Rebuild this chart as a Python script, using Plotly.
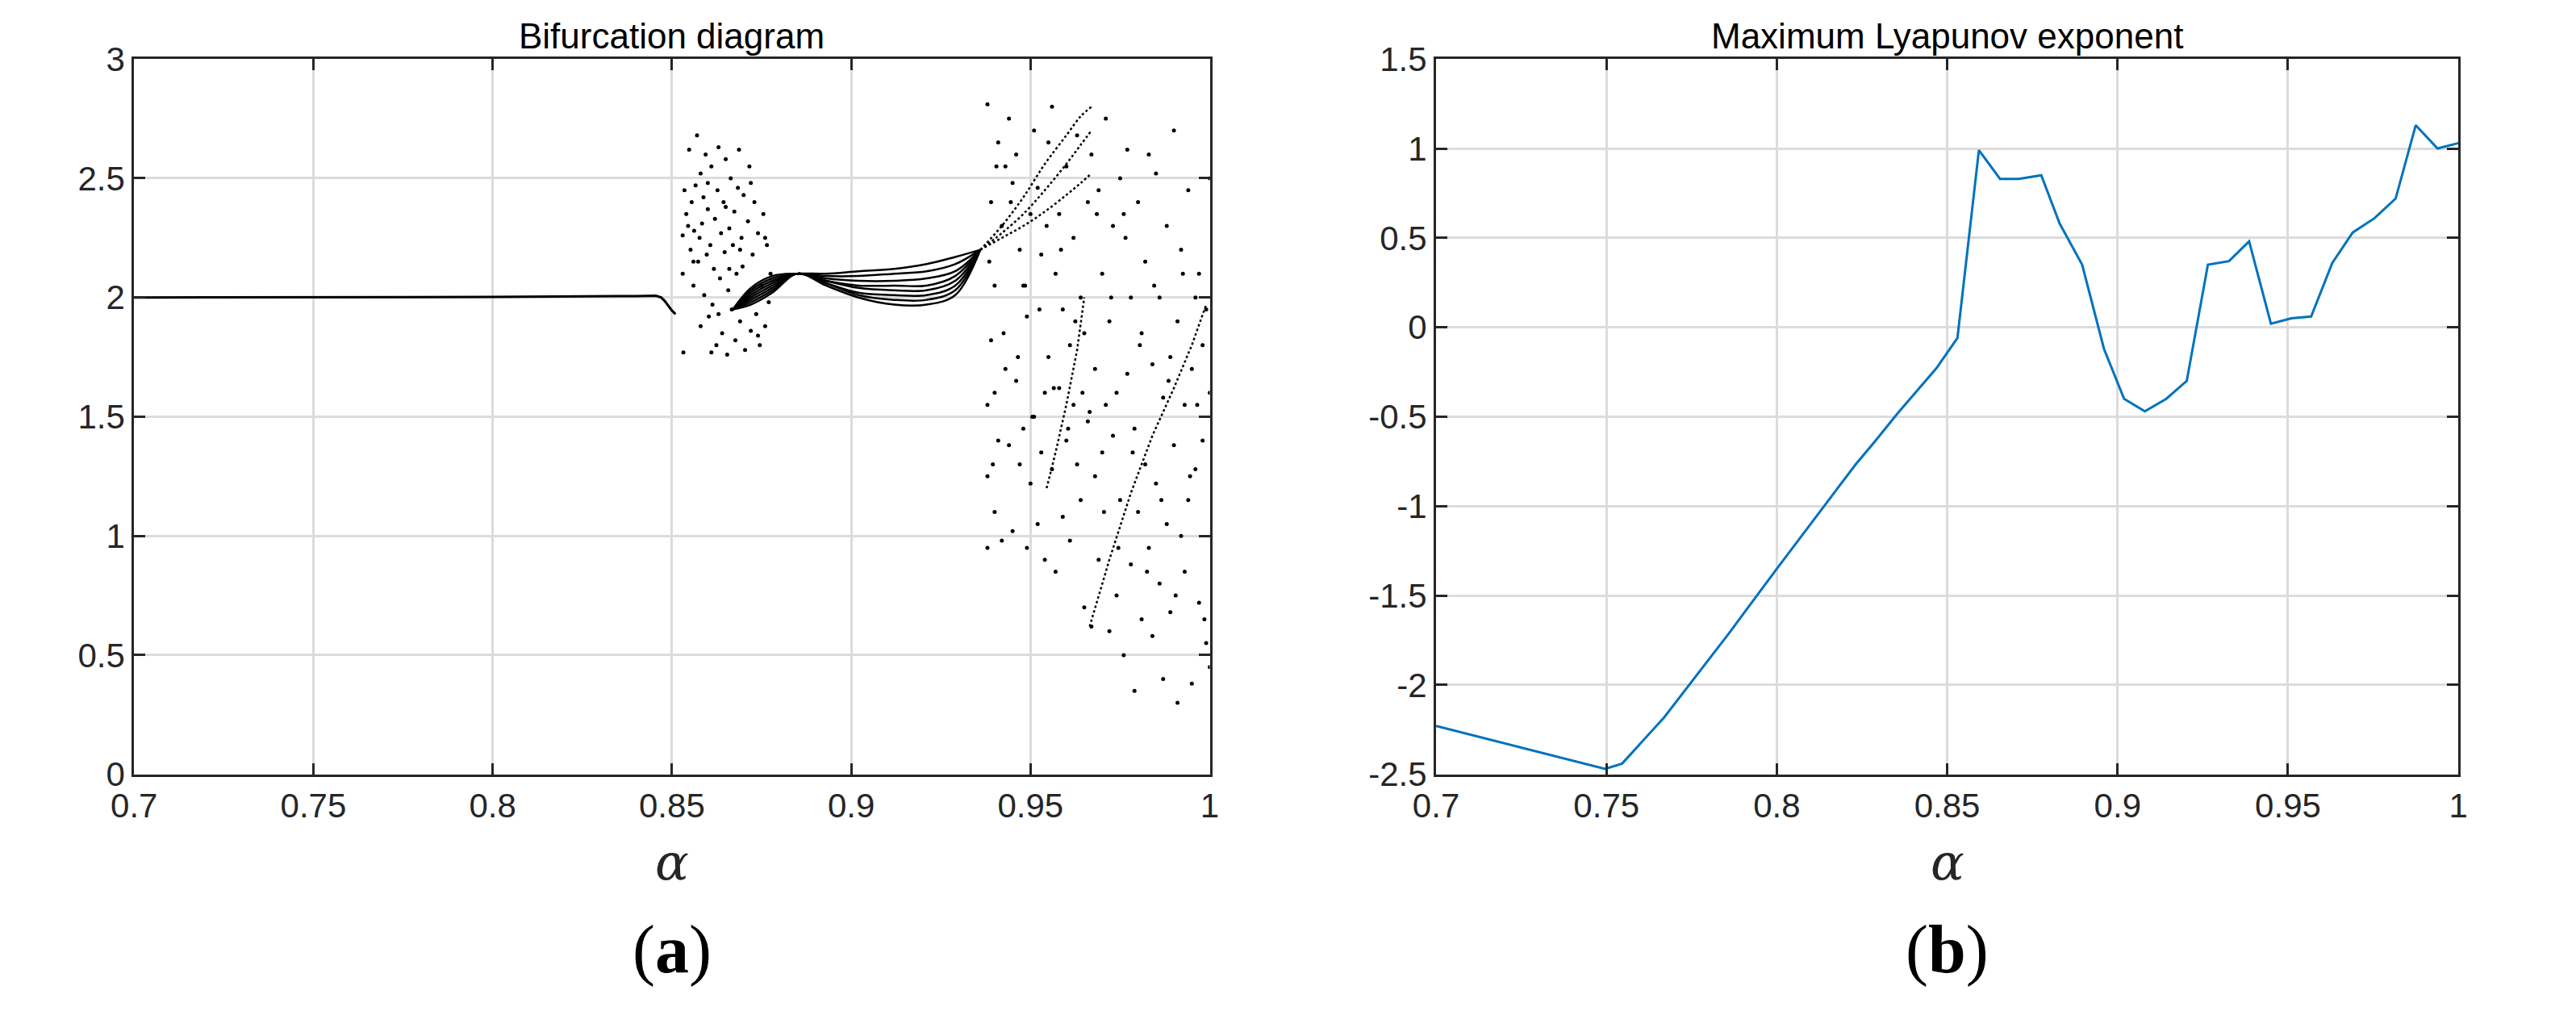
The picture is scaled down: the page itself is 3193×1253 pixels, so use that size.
import plotly.graph_objects as go

# ---- Lyapunov exponent data ----
lya_alpha = [0.7, 0.7496, 0.7546, 0.767, 0.786, 0.800, 0.8127, 0.823, 0.8287, 0.8355, 0.8468, 0.853,
             0.8593, 0.8655, 0.871, 0.8776, 0.883, 0.8896, 0.896, 0.9019, 0.908, 0.9143, 0.9203,
             0.9265, 0.9327, 0.9386, 0.945, 0.951, 0.9568, 0.963, 0.969, 0.9754, 0.9816, 0.9875,
             0.9939, 1.0]
lya_val = [-2.23, -2.47, -2.44, -2.18, -1.71, -1.35, -1.03, -0.77, -0.64, -0.48, -0.23, -0.06,
           0.99, 0.83, 0.83, 0.85, 0.58, 0.35, -0.12, -0.40, -0.47, -0.40, -0.30,
           0.35, 0.37, 0.48, 0.02, 0.05, 0.06, 0.36, 0.53, 0.61, 0.72, 1.13, 1.00, 1.03]

# ---- Bifurcation: steady branch ----
flat_alpha = [0.7, 0.75, 0.8, 0.84, 0.8455, 0.847, 0.848, 0.849, 0.850, 0.851]
flat_x = [2.0, 2.0, 2.002, 2.006, 2.007, 2.0, 1.985, 1.965, 1.945, 1.93]

# ---- Bifurcation: first chaotic cloud ----
cloud1_alpha = [0.8530, 0.8532, 0.8535, 0.8540, 0.8545, 0.8548, 0.8552, 0.8555, 0.8560, 0.8562,
                0.8566, 0.8570, 0.8573, 0.8577, 0.8580, 0.8584, 0.8588, 0.8590, 0.8594, 0.8597,
                0.8600, 0.8603, 0.8607, 0.8610, 0.8613, 0.8617, 0.8620, 0.8624, 0.8627, 0.8630,
                0.8634, 0.8637, 0.8640, 0.8644, 0.8647, 0.8650, 0.8654, 0.8657, 0.8660, 0.8664,
                0.8667, 0.8670, 0.8674, 0.8677, 0.8680, 0.8684, 0.8687, 0.8690, 0.8694, 0.8697,
                0.8700, 0.8704, 0.8708, 0.8712, 0.8716, 0.8720, 0.8725, 0.8730, 0.8735, 0.8740,
                0.8745, 0.8750, 0.8755, 0.8760, 0.8765, 0.8770, 0.8775, 0.8530, 0.8560, 0.8600,
                0.8650, 0.8700, 0.8740, 0.8760, 0.8610, 0.8660, 0.8690, 0.8720, 0.8580, 0.8630]
cloud1_x = [2.26, 1.77, 2.45, 2.35, 2.30, 2.62, 2.20, 2.40, 2.05, 2.28,
            2.47, 2.68, 2.15, 2.25, 1.88, 2.31, 2.42, 2.01, 2.60, 2.18,
            2.37, 1.92, 2.22, 2.55, 1.97, 2.12, 2.33, 1.80, 2.45, 2.63,
            2.08, 2.27, 1.85, 2.40, 2.19, 2.58, 1.76, 2.03, 2.29, 2.50,
            1.95, 2.22, 2.36, 1.82, 2.10, 2.46, 2.62, 1.90, 2.25, 2.13,
            2.43, 1.78, 2.00, 2.32, 2.55, 1.86, 2.18, 2.40, 1.93, 2.27,
            1.80, 2.05, 2.35, 1.88, 2.22, 1.98, 2.10, 2.10, 2.15, 2.48,
            2.38, 2.00, 1.84, 2.25, 1.77, 2.12, 2.20, 2.48, 2.52, 1.93]

# ---- Bifurcation: fan of curves (alpha, x) knots ----
fan_alpha = [0.867, 0.872, 0.878, 0.885, 0.893, 0.902, 0.912, 0.921, 0.929, 0.936]
fan_curves = [
    [1.95, 2.04, 2.09, 2.10, 2.10, 2.11, 2.12, 2.14, 2.17, 2.20],
    [1.95, 2.03, 2.08, 2.10, 2.09, 2.09, 2.10, 2.11, 2.14, 2.20],
    [1.95, 2.02, 2.07, 2.10, 2.08, 2.07, 2.07, 2.08, 2.11, 2.20],
    [1.95, 2.01, 2.06, 2.10, 2.07, 2.05, 2.05, 2.05, 2.09, 2.20],
    [1.95, 2.00, 2.05, 2.10, 2.07, 2.04, 2.03, 2.03, 2.07, 2.20],
    [1.95, 1.99, 2.04, 2.10, 2.06, 2.02, 2.01, 2.01, 2.05, 2.20],
    [1.95, 1.98, 2.03, 2.10, 2.06, 2.01, 1.99, 1.99, 2.03, 2.20],
    [1.95, 1.97, 2.02, 2.10, 2.05, 2.00, 1.97, 1.97, 2.01, 2.20],
]
rise_alpha = [0.936, 0.942, 0.948, 0.954, 0.960, 0.964, 0.967]
rise_curves = [
    [2.20, 2.25, 2.30, 2.36, 2.43, 2.48, 2.52],
    [2.20, 2.27, 2.35, 2.45, 2.56, 2.64, 2.70],
    [2.20, 2.30, 2.42, 2.56, 2.68, 2.76, 2.80],
]
diag1_alpha = [0.9665, 0.972, 0.978, 0.984, 0.990, 0.995, 0.999]
diag1_x = [0.62, 0.90, 1.18, 1.42, 1.62, 1.80, 1.97]
diag2_alpha = [0.9545, 0.957, 0.960, 0.963, 0.965]
diag2_x = [1.20, 1.35, 1.55, 1.78, 2.00]

# ---- Bifurcation: second chaotic region ----
cloud2_alpha = [0.938, 0.938, 0.938, 0.938, 0.939, 0.939, 0.940, 0.940, 0.940, 0.941,
                0.941, 0.942, 0.942, 0.943, 0.943, 0.944, 0.944, 0.945, 0.945, 0.946,
                0.946, 0.947, 0.947, 0.948, 0.948, 0.949, 0.949, 0.950, 0.950, 0.951,
                0.951, 0.952, 0.952, 0.953, 0.953, 0.954, 0.954, 0.955, 0.955, 0.956,
                0.956, 0.957, 0.957, 0.958, 0.958, 0.959, 0.959, 0.960, 0.960, 0.961,
                0.961, 0.962, 0.962, 0.963, 0.963, 0.964, 0.964, 0.965, 0.965, 0.966,
                0.966, 0.967, 0.967, 0.968, 0.968, 0.969, 0.969, 0.970, 0.970, 0.971,
                0.971, 0.972, 0.972, 0.973, 0.973, 0.974, 0.974, 0.975, 0.975, 0.976,
                0.976, 0.977, 0.977, 0.978, 0.978, 0.979, 0.979, 0.980, 0.980, 0.981,
                0.981, 0.982, 0.982, 0.983, 0.983, 0.984, 0.984, 0.985, 0.985, 0.986,
                0.986, 0.987, 0.987, 0.988, 0.988, 0.989, 0.989, 0.990, 0.990, 0.991,
                0.991, 0.992, 0.992, 0.993, 0.993, 0.994, 0.994, 0.995, 0.995, 0.996,
                0.996, 0.997, 0.997, 0.998, 0.998, 0.999, 0.999, 1.0, 1.0, 1.0,
                0.9385, 0.9395, 0.9405, 0.9425, 0.9445, 0.9465, 0.9485, 0.9505, 0.9525, 0.9545,
                0.9565, 0.9585, 0.9605, 0.9625, 0.9645, 0.9665, 0.9685, 0.9705, 0.9725, 0.9745,
                0.9765, 0.9785, 0.9805, 0.9825, 0.9845, 0.9865, 0.9885, 0.9905, 0.9925, 0.9945,
                0.9965, 0.9985]
cloud2_x = [2.81, 1.55, 1.25, 0.95, 2.40, 1.82, 2.05, 1.60, 1.10, 2.65,
            1.40, 2.30, 0.98, 2.55, 1.70, 2.75, 1.38, 2.48, 1.02, 2.60,
            1.65, 2.20, 1.30, 2.05, 1.45, 1.92, 0.95, 2.35, 1.22, 2.70,
            1.50, 2.46, 1.05, 2.18, 1.35, 1.60, 0.90, 2.65, 1.75, 2.80,
            1.28, 2.10, 0.85, 2.35, 1.62, 1.95, 1.08, 2.55, 1.40, 1.80,
            0.98, 2.25, 1.55, 2.68, 1.30, 2.00, 1.15, 1.85, 0.70, 2.40,
            1.48, 2.60, 0.62, 1.70, 1.25, 2.45, 0.90, 2.10, 1.35, 2.75,
            1.55, 1.90, 0.60, 2.30, 1.42, 1.60, 0.75, 2.50, 1.15, 2.35,
            0.50, 2.62, 1.68, 2.00, 0.88, 1.45, 0.35, 2.40, 1.10, 1.85,
            0.65, 2.15, 1.30, 2.60, 0.95, 1.72, 0.58, 2.52, 1.22, 2.00,
            0.80, 1.58, 0.40, 2.30, 1.05, 1.75, 0.68, 2.70, 1.38, 0.30,
            1.90, 2.20, 1.00, 1.55, 0.85, 2.45, 1.15, 1.70, 0.38, 2.00,
            1.28, 2.10, 0.72, 1.80, 1.40, 1.95, 0.55, 2.50, 1.60, 0.45,
            2.15, 1.30, 2.55, 1.85, 2.40, 1.75, 2.05, 1.50, 1.95, 2.30,
            1.62, 2.20, 1.45, 1.90, 1.60, 1.52, 2.35, 1.10, 2.00, 0.95,
            2.25, 1.35, 1.80, 0.85, 2.05, 1.15, 1.65, 0.75, 2.10, 1.25,
            1.55, 0.65]

fig = go.Figure()
INK = "#000000"
fig.add_trace(go.Scatter(x=flat_alpha, y=flat_x, mode="lines", line=dict(color=INK, width=3),
                         xaxis="x", yaxis="y", showlegend=False))
fig.add_trace(go.Scatter(x=cloud1_alpha, y=cloud1_x, mode="markers", marker=dict(color=INK, size=5),
                         xaxis="x", yaxis="y", showlegend=False))
for c in fan_curves:
    fig.add_trace(go.Scatter(x=fan_alpha, y=c, mode="lines", line=dict(color=INK, width=2.5, shape="spline"),
                             xaxis="x", yaxis="y", showlegend=False))
for c in rise_curves:
    fig.add_trace(go.Scatter(x=rise_alpha, y=c, mode="lines", line=dict(color=INK, width=2.5, dash="dot", shape="spline"),
                             xaxis="x", yaxis="y", showlegend=False))
fig.add_trace(go.Scatter(x=diag1_alpha, y=diag1_x, mode="lines", line=dict(color=INK, width=2.5, dash="dot"),
                         xaxis="x", yaxis="y", showlegend=False))
fig.add_trace(go.Scatter(x=diag2_alpha, y=diag2_x, mode="lines", line=dict(color=INK, width=2.5, dash="dot"),
                         xaxis="x", yaxis="y", showlegend=False))
fig.add_trace(go.Scatter(x=cloud2_alpha, y=cloud2_x, mode="markers", marker=dict(color=INK, size=5),
                         xaxis="x", yaxis="y", showlegend=False))

fig.add_trace(go.Scatter(x=lya_alpha, y=lya_val, mode="lines", line=dict(color="#0072BD", width=3),
                         xaxis="x2", yaxis="y2", showlegend=False))

FONT = "Liberation Sans, Arial, sans-serif"
ax = dict(showline=True, mirror="ticks", linecolor="#262626", linewidth=3,
          ticks="inside", ticklen=14, tickwidth=3, tickcolor="#262626",
          showgrid=True, gridcolor="#dcdcdc", gridwidth=2.5, zeroline=False,
          tickfont=dict(family=FONT, size=42, color="#262626"))
xa = dict(ax, range=[0.7, 1.0], tickvals=[0.7, 0.75, 0.8, 0.85, 0.9, 0.95, 1.0],
          ticktext=["0.7", "0.75", "0.8", "0.85", "0.9", "0.95", "1"])

fig.update_layout(
    width=3193, height=1253, paper_bgcolor="white", plot_bgcolor="white",
    margin=dict(l=0, r=0, t=0, b=0),
    xaxis=dict(xa, domain=[0.041, 0.464], anchor="y"),
    yaxis=dict(ax, domain=[0.23, 0.965], range=[0, 3], tickvals=[0, 0.5, 1, 1.5, 2, 2.5, 3],
               ticktext=["0", "0.5", "1", "1.5", "2", "2.5", "3"], anchor="x"),
    xaxis2=dict(xa, domain=[0.553, 0.955], anchor="y2"),
    yaxis2=dict(ax, domain=[0.23, 0.965], range=[-2.5, 1.5],
                tickvals=[-2.5, -2, -1.5, -1, -0.5, 0, 0.5, 1, 1.5],
                ticktext=["-2.5", "-2", "-1.5", "-1", "-0.5", "0", "0.5", "1", "1.5"], anchor="x2"),
)
anns = [
    dict(x=0.2525, y=0.967, text="Bifurcation diagram", font=dict(family=FONT, size=44, color="black"), yanchor="bottom"),
    dict(x=0.754, y=0.967, text="Maximum Lyapunov exponent", font=dict(family=FONT, size=44, color="black"), yanchor="bottom"),
    dict(x=0.2525, y=0.14, text="<i>α</i>", font=dict(family="DejaVu Serif, serif", size=62, color="#262626"), yanchor="middle"),
    dict(x=0.754, y=0.14, text="<i>α</i>", font=dict(family="DejaVu Serif, serif", size=62, color="#262626"), yanchor="middle"),
    dict(x=0.2525, y=0.05, text="(<b>a</b>)", font=dict(family="Liberation Serif, serif", size=84, color="black"), yanchor="middle"),
    dict(x=0.754, y=0.05, text="(<b>b</b>)", font=dict(family="Liberation Serif, serif", size=84, color="black"), yanchor="middle"),
]
for a in anns:
    fig.add_annotation(dict(a, xref="paper", yref="paper", showarrow=False, xanchor="center"))

fig.write_html("out.html")
